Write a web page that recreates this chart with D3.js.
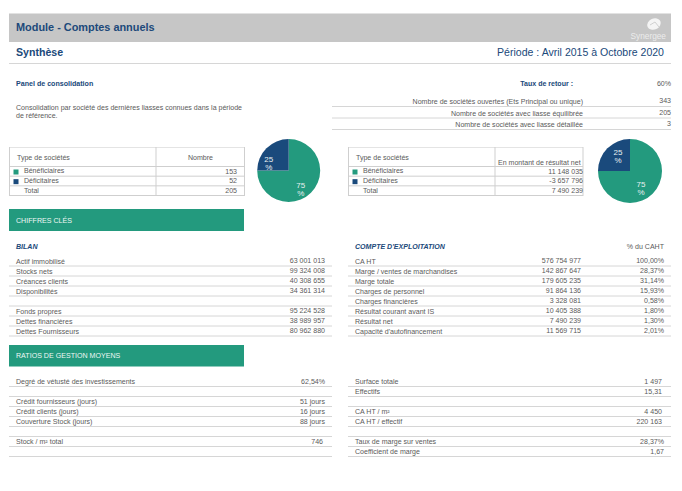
<!DOCTYPE html>
<html>
<head>
<meta charset="utf-8">
<script src="https://cdnjs.cloudflare.com/ajax/libs/d3/7.8.5/d3.min.js"></script>
<style>
  html, body { margin: 0; padding: 0; background: #fff; }
  svg { display: block; }
  text { font-family: "Liberation Sans", Arial, sans-serif; }
</style>
</head>
<body>
<script>
// Data
const panelLabels = ['Nombre de sociétés ouvertes (Ets Principal ou unique)', 'Nombre de sociétés avec liasse équilibrée', 'Nombre de sociétés avec liasse détaillée'];
const panelValues = ['343', '205', '3'];

const typeLabels = ['Bénéficiaires', 'Déficitaires', 'Total'];
const nombreValues = ['153', '52', '205'];
const montantValues = ['11 148 035', '-3 657 796', '7 490 239'];
const pieNombre = [75, 25];
const pieMontant = [75, 25];

const bilanLabels = ['Actif immobilisé', 'Stocks nets', 'Créances clients', 'Disponibilités', '', 'Fonds propres', 'Dettes financières', 'Dettes Fournisseurs'];
const bilanValues = ['63 001 013', '99 324 008', '40 308 655', '34 361 314', '', '95 224 528', '38 989 957', '80 962 880'];

const compteLabels = ['CA HT', 'Marge / ventes de marchandises', 'Marge totale', 'Charges de personnel', 'Charges financières', 'Résultat courant avant IS', 'Résultat net', "Capacité d'autofinancement"];
const compteValues = ['576 754 977', '142 867 647', '179 605 235', '91 864 136', '3 328 081', '10 405 388', '7 490 239', '11 569 715'];
const comptePct = ['100,00%', '28,37%', '31,14%', '15,93%', '0,58%', '1,80%', '1,30%', '2,01%'];

const ratioLabels = ['Degré de vétusté des investissements', '', 'Crédit fournisseurs (jours)', 'Crédit clients (jours)', 'Couverture Stock (jours)', '', 'Stock / m² total', ''];
const ratioValues = ['62,54%', '', '51 jours', '16 jours', '88 jours', '', '746', ''];

const moyenLabels = ['Surface totale', 'Effectifs', '', 'CA HT / m²', 'CA HT / effectif', '', 'Taux de marge sur ventes', 'Coefficient de marge'];
const moyenValues = ['1 497', '15,31', '', '4 450', '220 163', '', '28,37%', '1,67'];

const green = '#239a7e';
const navy = '#1a4a7c';
const title = '#20497a';
const grey = '#5a5a5a';
const rule = '#d6d6d6';

const svg = d3.select('body').append('svg')
    .attr('width', 682)
    .attr('height', 491);

function label(x, y, str, opts = {}) {
    return svg.append('text')
        .attr('x', x)
        .attr('y', y)
        .attr('text-anchor', opts.anchor || 'start')
        .attr('font-size', opts.size || 7.05)
        .attr('font-weight', opts.weight || 'normal')
        .attr('font-style', opts.style || 'normal')
        .attr('fill', opts.fill || grey)
        .text(str);
}

function line(x1, y1, x2, y2, color = rule, w = 1) {
    svg.append('line')
        .attr('x1', x1).attr('y1', y1)
        .attr('x2', x2).attr('y2', y2)
        .attr('stroke', color)
        .attr('stroke-width', w);
}

// Header
svg.append('rect').attr('x', 9).attr('y', 14).attr('width', 662).attr('height', 28).attr('fill', '#c6c6c6');
line(9, 13.5, 671, 13.5, '#e2e2e2');
label(16, 31, 'Module - Comptes annuels', { size: 10.9, weight: 'bold', fill: title });
// logo blob
svg.append('ellipse').attr('cx', 654).attr('cy', 24).attr('rx', 7).attr('ry', 5.5)
    .attr('fill', '#f4f4f4').attr('transform', 'rotate(-25 654 24)');
svg.append('path').attr('d', 'M650 25 L655 22 L659 27')
    .attr('fill', 'none').attr('stroke', '#c6c6c6').attr('stroke-width', 0.8);
label(666, 39, 'Synergee', { size: 8.3, anchor: 'end', fill: '#ececec' });
label(16, 56, 'Synthèse', { size: 10.6, weight: 'bold', fill: title });
label(664, 55.5, 'Période : Avril 2015 à Octobre 2020', { size: 10.55, anchor: 'end', fill: title });
line(9, 63.5, 671, 63.5);

// Panel
label(16, 86, 'Panel de consolidation', { size: 7.1, weight: 'bold', fill: title });
label(16, 109.5, 'Consolidation par société des dernières liasses connues dans la période');
label(16, 118, 'de référence.');
label(573, 86, 'Taux de retour :', { size: 7.05, weight: 'bold', anchor: 'end', fill: title });
label(671, 86, '60%', { anchor: 'end' });

const panelY = d3.scaleBand().domain(d3.range(panelLabels.length)).range([95, 129.5]);
panelLabels.forEach((d, i) => {
    const y = panelY(i) + panelY.bandwidth();
    label(583, y - 2.5, d, { anchor: 'end' });
    label(671, y - 3.5, panelValues[i], { anchor: 'end' });
    line(332, y, 671, y);
});

// Small tables with their pies
const pieLayout = d3.pie().sort(null);
const pieColor = d3.scaleOrdinal().domain([0, 1]).range([green, navy]);
const tableY = d3.scaleBand().domain(d3.range(typeLabels.length)).range([166.5, 195.5]);

function smallTable(x0, xMid, x1, head, values, valueRight, headOpts) {
    const bc = '#cfcfcf';
    line(x0, 147.5, x1, 147.5, '#e4e4e4');
    line(x0, 147, x0, 196, bc);
    line(x1, 147, x1, 196, bc);
    line(xMid, 147, xMid, 196, bc);
    label(x0 + 7.5, 159.5, 'Type de sociétés');
    label(headOpts.x, headOpts.y, head, { anchor: headOpts.anchor });
    line(x0, 166.5, x1, 166.5, bc);
    typeLabels.forEach((d, i) => {
        const y = tableY(i);
        const bottom = y + tableY.bandwidth();
        label(x0 + 14.5, bottom - 3, d);
        label(valueRight, bottom - 2.5, values[i], { anchor: 'end' });
        line(x0, bottom, x1, bottom, bc);
        if (i < 2) {
            svg.append('rect')
                .attr('x', x0 + 4).attr('y', y + 3)
                .attr('width', 5).attr('height', 5)
                .attr('fill', pieColor(i));
        }
    });
}

function smallPie(cx, cy, r, values, spots) {
    const g = svg.append('g').attr('transform', `translate(${cx},${cy})`);
    const arc = d3.arc().innerRadius(0).outerRadius(r);
    g.selectAll('path')
        .data(pieLayout(values))
        .join('path')
        .attr('d', arc)
        .attr('fill', (d, i) => pieColor(i));
    values.forEach((v, i) => {
        label(cx + spots[i][0], cy + spots[i][1], v, { anchor: 'middle', fill: '#e8f0f0', size: 8 });
        label(cx + spots[i][0], cy + spots[i][1] + 8, '%', { anchor: 'middle', fill: '#e8f0f0', size: 8 });
    });
}

smallTable(9.5, 156, 244.5, 'Nombre', nombreValues, 237, { x: 200.5, y: 159.5, anchor: 'middle' });
smallTable(348.5, 495, 583, 'En montant de résultat net', montantValues, 583, { x: 498, y: 164.5, anchor: 'start' });
smallPie(288.7, 170.5, 31.5, pieNombre, [[12, 17.5], [-20, -8.5]]);
smallPie(630, 171, 32, pieMontant, [[11, 16], [-12, -16]]);

// Section bands
function band(y, h, str) {
    svg.append('rect').attr('x', 9).attr('y', y).attr('width', 235).attr('height', h).attr('fill', green);
    label(16, y + h / 2 + 2.5, str, { fill: '#eef7f4', size: 7.1 });
}
band(209, 22, 'CHIFFRES CLÉS');
band(345, 21.5, 'RATIOS DE GESTION MOYENS');

// Row tables
function rowTable(top, labels, columns, x0, x1, labelX) {
    const y = d3.scaleBand().domain(d3.range(labels.length)).range([top, top + labels.length * 10]);
    labels.forEach((d, i) => {
        const bottom = y(i) + y.bandwidth();
        label(labelX, bottom - 2.5, d);
        columns.forEach(c => label(c.x(i), bottom - 3, c.values[i], { anchor: 'end' }));
        line(x0, bottom, x1, bottom);
    });
}

label(16, 248.5, 'BILAN', { size: 7.05, weight: 'bold', style: 'italic', fill: title });
label(355, 248.5, "COMPTE D'EXPLOITATION", { size: 7.05, weight: 'bold', style: 'italic', fill: title });
label(664, 248.5, '% du CAHT', { anchor: 'end' });

rowTable(256, bilanLabels, [{ x: () => 325, values: bilanValues }], 9, 332, 16);
rowTable(256, compteLabels, [{ x: () => 581, values: compteValues }, { x: () => 664, values: comptePct }], 348, 671, 355);
rowTable(376.5, ratioLabels, [{ x: i => i === 6 ? 323 : 325, values: ratioValues }], 9, 332, 16);
rowTable(376.5, moyenLabels, [{ x: i => /%|,67/.test(moyenValues[i]) ? 664 : 662, values: moyenValues }], 348, 671, 355);
</script>
</body>
</html>
